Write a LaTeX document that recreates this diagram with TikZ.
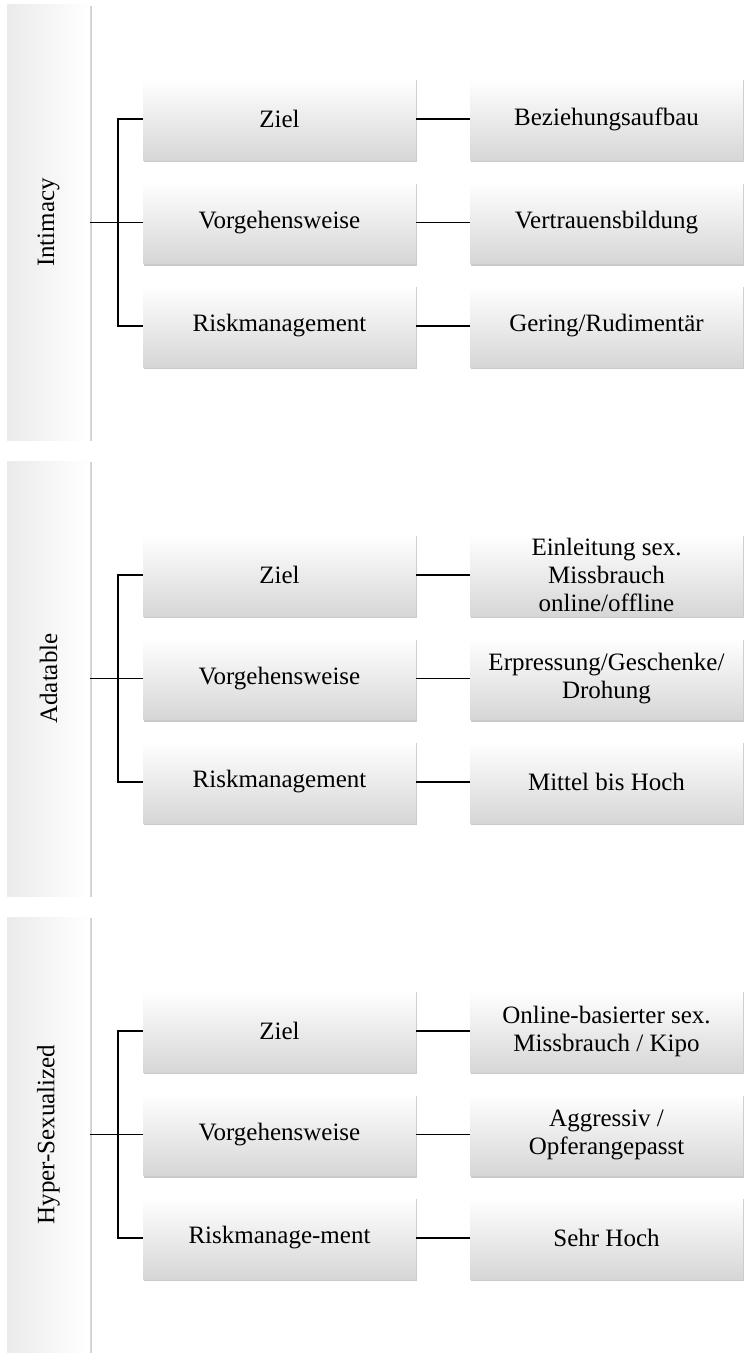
\documentclass[tikz,border=0pt]{standalone}
\usepackage{fontspec}
\setmainfont{Liberation Serif}
\usetikzlibrary{shadows}
\begin{document}
\begin{tikzpicture}[x=1pt,y=-1pt,
  bx/.style={minimum width=273pt,minimum height=82pt,inner sep=0pt,align=center,
    top color=white,bottom color=black!16,
    drop shadow={shadow xshift=1pt,shadow yshift=-2pt,opacity=0.35,fill=black!60},
    font=\fontsize{25}{28}\selectfont},
  bar/.style={minimum width=435pt,minimum height=83pt,inner sep=0pt,rotate=90,
    left color=black!8,right color=white,
    drop shadow={shadow xshift=2pt,shadow yshift=-1pt,opacity=0.3,fill=black!60},
    font=\fontsize{25}{28}\selectfont},
  ln/.style={line width=1.3pt}]
\useasboundingbox (0,0) rectangle (748,1362);
\foreach \g/\name/\yo/\za/\zb/\zc/\ra/\rb/\rc in {
 1/Intimacy/0/Ziel/Vorgehensweise/Riskmanagement/Beziehungsaufbau/Vertrauensbildung/Gering\slash Rudimentär,
 2/Adatable/456/Ziel/Vorgehensweise/Riskmanagement/{Einleitung sex.\\Missbrauch\\online\slash offline}/{Erpressung\slash Geschenke\slash\\Drohung}/Mittel bis Hoch,
 3/Hyper-Sexualized/912/Ziel/Vorgehensweise/Riskmanage-ment/{Online-basierter sex.\\Missbrauch / Kipo}/{Aggressiv /\\Opferangepasst}/Sehr Hoch}{
  \node[bar] (b\g) at (48.5,222.5+\yo) {\name};
  \node[bx] (m\g a) at (279.5,119+\yo) {\za};
  \node[bx] (m\g b) at (279.5,222.5+\yo) {\zb};
  \node[bx] (m\g c) at (279.5,326+\yo) {\zc};
  \node[bx] (r\g a) at (606.5,119+\yo) {\ra};
  \node[bx] (r\g b) at (606.5,222.5+\yo) {\rb};
  \node[bx] (r\g c) at (606.5,326+\yo) {\rc};
  \coordinate (j\g) at (118,222.5+\yo);
  \draw[ln] (b\g.south) -- (j\g);
  \draw[ln] (m\g a.west) -| (m\g c.west -| j\g) -- (m\g c.west);
  \draw[ln] (j\g) -- (m\g b.west);
  \foreach \k in {a,b,c}{\draw[ln] (m\g\k.east) -- (r\g\k.west);}
}
\end{tikzpicture}
\end{document}
